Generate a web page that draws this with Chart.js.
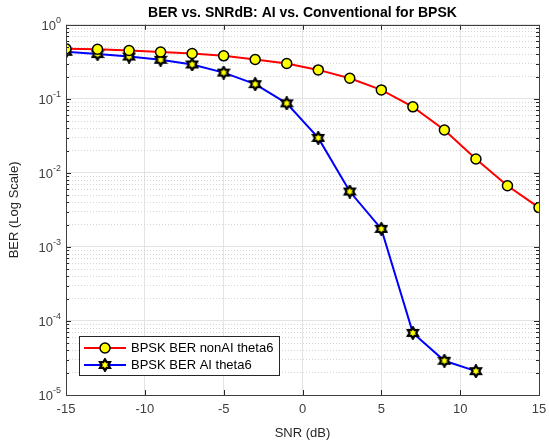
<!DOCTYPE html>
<html lang="en">
<head>
<meta charset="UTF-8">
<title>BER vs. SNRdB: AI vs. Conventional for BPSK</title>
<script src="https://cdn.jsdelivr.net/npm/chart.js@4.4.0/dist/chart.umd.js"></script>
<style>
    body { margin: 0; background: #fff; }
    #wrap { width: 549px; height: 441px; }
</style>
</head>
<body>
<div id="wrap"><canvas id="berChart" width="549" height="441"></canvas></div>
<script>
    const snrNonAI = [-15, -13, -11, -9, -7, -5, -3, -1, 1, 3, 5, 7, 9, 11, 13, 15];
    const berNonAI = [0.474, 0.468, 0.449, 0.428, 0.41, 0.381, 0.34, 0.30, 0.246, 0.19, 0.132, 0.078, 0.038, 0.0154, 0.0067, 0.0034];
    const snrAI = [-15, -13, -11, -9, -7, -5, -3, -1, 1, 3, 5, 7, 9, 11];
    const berAI = [0.432, 0.402, 0.373, 0.337, 0.291, 0.226, 0.158, 0.087, 0.0297, 0.0056, 0.00175, 6.9e-5, 2.9e-5, 2.1e-5];
    const xTicks = [-15, -10, -5, 0, 5, 10, 15];
    const yMajorTicks = [1e-5, 1e-4, 1e-3, 1e-2, 1e-1, 1];
    const yTickExponents = ['-5', '-4', '-3', '-2', '-1', '0'];

    const yMinorTicks = [];
    yMajorTicks.slice(0, -1).forEach(d => {
        for (let m = 2; m <= 9; m++) yMinorTicks.push(d * m);
    });

    const FONT = 'Arial, "Liberation Sans", sans-serif';

    // six-pointed star marker (MATLAB 'hexagram')
    function hexagram(size) {
        const c = document.createElement('canvas');
        c.width = c.height = size;
        const g = c.getContext('2d');
        const cx = size / 2, cy = size / 2, r = size / 2 - 1.2;
        g.beginPath();
        for (let i = 0; i < 12; i++) {
            const a = -Math.PI / 2 + i * Math.PI / 6;
            const rr = i % 2 === 0 ? r : r * 0.577;
            const px = cx + rr * Math.cos(a), py = cy + rr * Math.sin(a);
            if (i === 0) g.moveTo(px, py); else g.lineTo(px, py);
        }
        g.closePath();
        g.fillStyle = '#ffff00';
        g.fill();
        g.lineWidth = 2.2;
        g.strokeStyle = '#000';
        g.stroke();
        return c;
    }
    const starImg = hexagram(14);

    const matlabAxes = {
        id: 'matlabAxes',
        afterDraw(chart) {
            const ctx = chart.ctx;
            const a = chart.chartArea;
            const xs = chart.scales.x, ys = chart.scales.y;
            ctx.save();
            // inward ticks
            ctx.strokeStyle = '#262626';
            ctx.lineWidth = 1;
            ctx.beginPath();
            xTicks.forEach(v => {
                const px = Math.round(xs.getPixelForValue(v)) + 0.5;
                ctx.moveTo(px, a.bottom); ctx.lineTo(px, a.bottom - 5);
                ctx.moveTo(px, a.top); ctx.lineTo(px, a.top + 5);
            });
            yMajorTicks.forEach(v => {
                const py = Math.round(ys.getPixelForValue(v)) + 0.5;
                ctx.moveTo(a.left, py); ctx.lineTo(a.left + 5, py);
                ctx.moveTo(a.right, py); ctx.lineTo(a.right - 5, py);
            });
            yMinorTicks.forEach(v => {
                const py = Math.round(ys.getPixelForValue(v)) + 0.5;
                ctx.moveTo(a.left, py); ctx.lineTo(a.left + 3, py);
                ctx.moveTo(a.right, py); ctx.lineTo(a.right - 3, py);
            });
            ctx.stroke();
            // box
            ctx.strokeStyle = '#404040';
            ctx.strokeRect(Math.round(a.left) + 0.5, Math.round(a.top) + 0.5,
                Math.round(a.right - a.left), Math.round(a.bottom - a.top));

            // y tick labels 10^n
            ctx.fillStyle = '#404040';
            ctx.textBaseline = 'middle';
            yMajorTicks.forEach((v, i) => {
                const py = ys.getPixelForValue(v);
                ctx.font = '9px ' + FONT;
                const ew = ctx.measureText(yTickExponents[i]).width;
                const right = a.left - 5;
                ctx.textAlign = 'left';
                ctx.fillText(yTickExponents[i], right - ew, py - 4);
                ctx.font = '13px ' + FONT;
                ctx.textAlign = 'right';
                ctx.fillText('10', right - ew, py + 1.5);
            });

            // legend box
            const lx = a.left + 13, ly = a.bottom - 59, lw = 200, lh = 39;
            ctx.fillStyle = '#fff';
            ctx.fillRect(lx, ly, lw, lh);
            ctx.strokeStyle = '#262626';
            ctx.strokeRect(lx + 0.5, ly + 0.5, lw, lh);
            const rows = [
                { label: chart.data.datasets[0].label, color: '#ff0000', y: ly + 12, marker: 'circle' },
                { label: chart.data.datasets[1].label, color: '#0000ff', y: ly + 29, marker: 'star' }
            ];
            rows.forEach(r => {
                ctx.strokeStyle = r.color;
                ctx.lineWidth = 2;
                ctx.beginPath();
                ctx.moveTo(lx + 5, r.y); ctx.lineTo(lx + 47, r.y);
                ctx.stroke();
                if (r.marker === 'circle') {
                    ctx.beginPath();
                    ctx.arc(lx + 26, r.y, 5, 0, Math.PI * 2);
                    ctx.fillStyle = '#ffff00';
                    ctx.fill();
                    ctx.lineWidth = 1.5;
                    ctx.strokeStyle = '#000';
                    ctx.stroke();
                } else {
                    ctx.drawImage(starImg, lx + 26 - 7, r.y - 7);
                }
                ctx.fillStyle = '#000';
                ctx.font = '13px ' + FONT;
                ctx.textAlign = 'left';
                ctx.textBaseline = 'middle';
                ctx.fillText(r.label, lx + 52, r.y + 0.5);
            });
            ctx.restore();
        }
    };

    new Chart(document.getElementById('berChart'), {
        type: 'line',
        data: {
            datasets: [
                {
                    label: 'BPSK BER nonAI theta6',
                    data: snrNonAI.map((x, i) => ({ x, y: berNonAI[i] })),
                    borderColor: '#ff0000',
                    borderWidth: 2,
                    pointStyle: 'circle',
                    pointRadius: 5,
                    pointBackgroundColor: '#ffff00',
                    pointBorderColor: '#000',
                    pointBorderWidth: 1.5,
                    tension: 0
                },
                {
                    label: 'BPSK BER AI theta6',
                    data: snrAI.map((x, i) => ({ x, y: berAI[i] })),
                    borderColor: '#0000ff',
                    borderWidth: 2,
                    pointStyle: starImg,
                    pointRadius: 7,
                    tension: 0
                }
            ]
        },
        options: {
            responsive: false,
            animation: false,
            layout: { padding: { left: 0, right: 10, top: 0, bottom: 0 } },
            plugins: {
                legend: { display: false },
                tooltip: { enabled: false },
                title: {
                    display: true,
                    fullSize: false,
                    text: 'BER vs. SNRdB: AI vs. Conventional for BPSK',
                    color: '#000',
                    font: { family: FONT, size: 14, weight: 'bold' },
                    padding: { top: 5, bottom: 3 }
                }
            },
            scales: {
                x: {
                    type: 'linear',
                    min: -15,
                    max: 15,
                    afterBuildTicks: s => { s.ticks = xTicks.map(v => ({ value: v })); },
                    afterFit: s => { s.height = 46; s.paddingRight = 0; s.paddingLeft = 0; },
                    grid: { color: '#e3e3e3', drawTicks: false },
                    border: { display: false },
                    ticks: { color: '#404040', font: { family: FONT, size: 13 }, padding: 7, autoSkip: false, maxRotation: 0 },
                    title: { display: true, text: 'SNR (dB)', color: '#262626', font: { family: FONT, size: 13 }, padding: { top: 2, bottom: 0 } }
                },
                y: {
                    type: 'logarithmic',
                    min: 1e-5,
                    max: 1,
                    afterBuildTicks: s => { s.ticks = yMajorTicks.map(v => ({ value: v, major: true })); },
                    afterFit: s => { s.width = 66; },
                    grid: { color: '#e3e3e3', drawTicks: false },
                    border: { display: false },
                    ticks: { display: false },
                    title: { display: true, text: 'BER (Log Scale)', color: '#262626', font: { family: FONT, size: 13 }, padding: { top: 7, bottom: 0 } }
                },
                yMinor: {
                    type: 'logarithmic',
                    position: 'left',
                    min: 1e-5,
                    max: 1,
                    afterBuildTicks: s => { s.ticks = yMinorTicks.map(v => ({ value: v })); },
                    afterFit: s => { s.width = 0; },
                    grid: { color: '#d6d6d6', drawTicks: false },
                    border: { display: false, dash: [1, 2] },
                    ticks: { display: false }
                }
            }
        },
        plugins: [matlabAxes]
    });
</script>
</body>
</html>
